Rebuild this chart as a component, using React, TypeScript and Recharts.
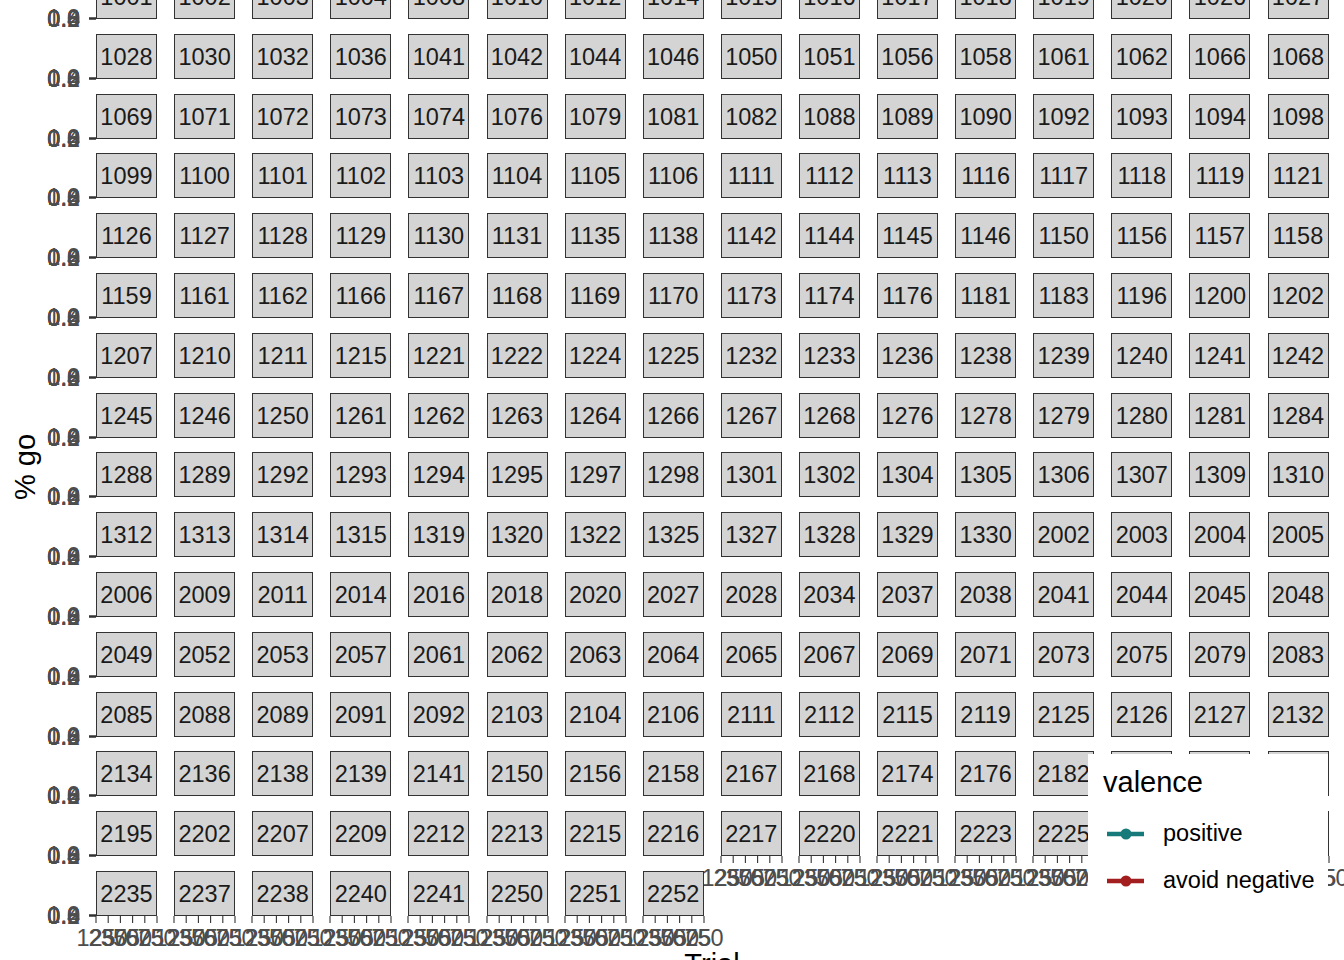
import React from 'react';
import { LineChart, XAxis, YAxis } from 'recharts';

// ---- data ----
const participants: number[] = [
  1001, 1002, 1003, 1004, 1008, 1010, 1012, 1014, 1015, 1016, 1017, 1018, 1019, 1020, 1026, 1027,
  1028, 1030, 1032, 1036, 1041, 1042, 1044, 1046, 1050, 1051, 1056, 1058, 1061, 1062, 1066, 1068,
  1069, 1071, 1072, 1073, 1074, 1076, 1079, 1081, 1082, 1088, 1089, 1090, 1092, 1093, 1094, 1098,
  1099, 1100, 1101, 1102, 1103, 1104, 1105, 1106, 1111, 1112, 1113, 1116, 1117, 1118, 1119, 1121,
  1126, 1127, 1128, 1129, 1130, 1131, 1135, 1138, 1142, 1144, 1145, 1146, 1150, 1156, 1157, 1158,
  1159, 1161, 1162, 1166, 1167, 1168, 1169, 1170, 1173, 1174, 1176, 1181, 1183, 1196, 1200, 1202,
  1207, 1210, 1211, 1215, 1221, 1222, 1224, 1225, 1232, 1233, 1236, 1238, 1239, 1240, 1241, 1242,
  1245, 1246, 1250, 1261, 1262, 1263, 1264, 1266, 1267, 1268, 1276, 1278, 1279, 1280, 1281, 1284,
  1288, 1289, 1292, 1293, 1294, 1295, 1297, 1298, 1301, 1302, 1304, 1305, 1306, 1307, 1309, 1310,
  1312, 1313, 1314, 1315, 1319, 1320, 1322, 1325, 1327, 1328, 1329, 1330, 2002, 2003, 2004, 2005,
  2006, 2009, 2011, 2014, 2016, 2018, 2020, 2027, 2028, 2034, 2037, 2038, 2041, 2044, 2045, 2048,
  2049, 2052, 2053, 2057, 2061, 2062, 2063, 2064, 2065, 2067, 2069, 2071, 2073, 2075, 2079, 2083,
  2085, 2088, 2089, 2091, 2092, 2103, 2104, 2106, 2111, 2112, 2115, 2119, 2125, 2126, 2127, 2132,
  2134, 2136, 2138, 2139, 2141, 2150, 2156, 2158, 2167, 2168, 2174, 2176, 2182, 2185, 2187, 2192,
  2195, 2202, 2207, 2209, 2212, 2213, 2215, 2216, 2217, 2220, 2221, 2223, 2225, 2227, 2229, 2232,
  2235, 2237, 2238, 2240, 2241, 2250, 2251, 2252,
];
const trialTicks: number[] = [125, 250, 375, 500, 625, 750];
const trialRange = [{ trial: 125 }, { trial: 750 }];
const goTicks: number[] = [0, 0.2, 0.4, 0.6, 0.8, 1.0];
const valenceLevels: string[] = ['positive', 'avoid negative'];
const valenceColors: string[] = ['#177a7a', '#a31f1f'];

// ---- layout ----
const NCOL = 16;
const X0 = 96;
const DX = 78.1;
const SW = 61;
const B0 = 19;
const DY = 59.8;
const SH = 45;
const YW = 60;
const XH = 42;
const PAD = 26;
const TXT = 23.5;
const FONT = '"Liberation Sans", Arial, Helvetica, sans-serif';

const nRows = Math.ceil(participants.length / NCOL);
const lastRowCount = participants.length - (nRows - 1) * NCOL;

function Panel({ id, idx }: { id: number; idx: number }) {
  const r = Math.floor(idx / NCOL);
  const c = idx % NCOL;
  const left = X0 + c * DX;
  const bottom = B0 + r * DY;
  const hasY = c === 0;
  const hasX = r === nRows - 1 || (r === nRows - 2 && c >= lastRowCount);
  const strip = (
    <div
      style={{
        position: 'absolute',
        left,
        top: bottom - SH,
        width: SW,
        height: SH,
        boxSizing: 'border-box',
        border: '1px solid #333333',
        background: '#d4d4d4',
        display: 'flex',
        alignItems: 'center',
        justifyContent: 'center',
        paddingTop: 2,
        fontSize: TXT,
        color: '#1a1a1a',
        fontFamily: FONT,
        whiteSpace: 'nowrap',
      }}
    >
      {id}
    </div>
  );
  if (!hasX && !hasY) return strip;
  const chartLeft = left - PAD - (hasY ? YW : 0);
  const w = PAD * 2 + (hasY ? YW : 0) + SW;
  const h = 1 + (hasX ? XH : 0);
  return (
    <>
      {strip}
      <div style={{ position: 'absolute', left: chartLeft, top: bottom - 1 }}>
        <LineChart
          width={w}
          height={h}
          data={trialRange}
          margin={{ top: 0, right: PAD, bottom: 0, left: PAD }}
        >
          <XAxis
            dataKey="trial"
            type="number"
            domain={[125, 750]}
            ticks={trialTicks}
            interval={0}
            hide={!hasX}
            height={XH}
            tickSize={7}
            tickMargin={6}
            axisLine={false}
            tickLine={{ stroke: '#333333', strokeWidth: 1.1 }}
            tick={{ fill: '#4d4d4d', fontSize: TXT, fontFamily: FONT }}
            allowDataOverflow
          />
          <YAxis
            type="number"
            domain={[0, 1]}
            ticks={goTicks}
            interval={0}
            hide={!hasY}
            width={YW}
            tickSize={7}
            tickMargin={9}
            axisLine={false}
            tickLine={{ stroke: '#333333', strokeWidth: 1.1 }}
            tick={{ fill: '#4d4d4d', fontSize: TXT, fontFamily: FONT }}
            tickFormatter={(v: number) => v.toFixed(1)}
            allowDataOverflow
          />
        </LineChart>
      </div>
    </>
  );
}

function LegendBox() {
  return (
    <div
      style={{
        position: 'absolute',
        left: 1088,
        top: 754,
        width: 240,
        height: 152,
        background: '#ffffff',
        fontFamily: FONT,
      }}
    >
      <div
        style={{
          position: 'absolute',
          left: 15,
          top: 14,
          fontSize: 29,
          lineHeight: '29px',
          color: '#000000',
          whiteSpace: 'nowrap',
        }}
      >
        valence
      </div>
      {valenceLevels.map((lab, i) => (
        <div
          key={lab}
          style={{
            position: 'absolute',
            left: 18,
            top: 56 + i * 47,
            height: 47,
            display: 'flex',
            alignItems: 'center',
            whiteSpace: 'nowrap',
          }}
        >
          <svg width={40} height={20} style={{ display: 'block' }}>
            <line x1={1} y1={10} x2={38} y2={10} stroke={valenceColors[i]} strokeWidth={4.5} />
            <circle cx={20} cy={10} r={5.5} fill={valenceColors[i]} />
          </svg>
          <span style={{ marginLeft: 17, fontSize: TXT, color: '#000000' }}>{lab}</span>
        </div>
      ))}
    </div>
  );
}

export default function App() {
  return (
    <div
      style={{
        position: 'absolute',
        left: 0,
        top: 0,
        width: 1344,
        height: 960,
        overflow: 'hidden',
        background: '#ffffff',
        fontFamily: FONT,
      }}
    >
      <style>{'.recharts-surface{overflow:visible}.recharts-wrapper{overflow:visible}'}</style>
      {participants.map((id, idx) => (
        <Panel key={id} id={id} idx={idx} />
      ))}
      <div
        style={{
          position: 'absolute',
          left: 25,
          top: 467,
          transform: 'translate(-50%, -50%) rotate(-90deg)',
          fontSize: 29,
          lineHeight: '29px',
          whiteSpace: 'nowrap',
          color: '#000000',
        }}
      >
        % go
      </div>
      <div
        style={{
          position: 'absolute',
          left: 712,
          top: 950,
          transform: 'translateX(-50%)',
          fontSize: 29,
          lineHeight: '29px',
          whiteSpace: 'nowrap',
          color: '#000000',
        }}
      >
        Trial
      </div>
      <LegendBox />
    </div>
  );
}
